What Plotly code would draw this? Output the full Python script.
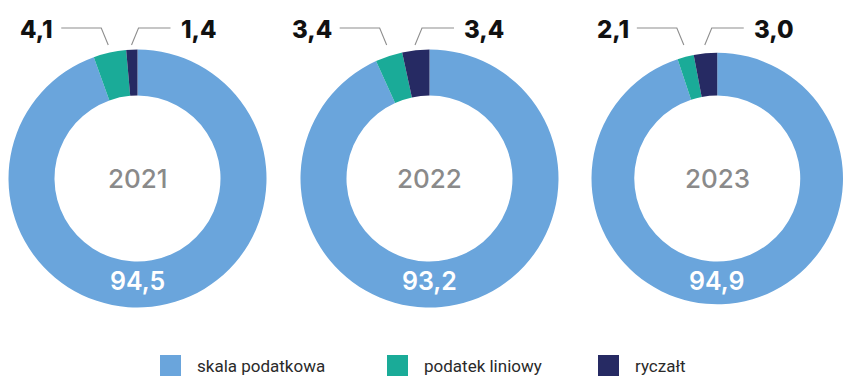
import math
import plotly.graph_objects as go

# Share of taxpayers by form of taxation (%)
years = ["2021", "2022", "2023"]
categories = ["skala podatkowa", "podatek liniowy", "ryczałt"]
skala = [94.5, 93.2, 94.9]
liniowy = [4.1, 3.4, 2.1]
ryczalt = [1.4, 3.4, 3.0]

colors = ["#6aa5dc", "#1aab98", "#262a63"]
W, H = 843, 378
FONT = "Inter, Roboto, Arial, sans-serif"
LEGEND_FONT = "Roboto, Arial, sans-serif"

centers_x = [137.5, 429.5, 720.5]
center_y = 178.5
R = 129
INNER = 83


def fmt(v):
    return f"{v:.1f}".replace(".", ",")


def px(x):
    return x / W


def py(y):
    return 1 - y / H


fig = go.Figure()
annotations = []
shapes = []
line_style = dict(color="#8e8e8e", width=1.1)

for i, year in enumerate(years):
    left = centers_x[i] - R
    right = min(centers_x[i] + R, W)
    r = (right - left) / 2
    cx = (left + right) / 2
    vals = [skala[i], liniowy[i], ryczalt[i]]
    fig.add_trace(go.Pie(
        labels=categories,
        values=vals,
        sort=False,
        direction="clockwise",
        rotation=0,
        hole=INNER / r,
        marker=dict(colors=colors, line=dict(width=0)),
        textinfo="none",
        hoverinfo="label+value",
        showlegend=False,
        domain=dict(x=[px(left), px(right)],
                    y=[py(center_y + r), py(center_y - r)]),
    ))

    # year in the hole, main share on the ring
    annotations.append(dict(x=px(cx), y=py(center_y), text=year, showarrow=False,
                            font=dict(family=FONT, size=26, color="#8a8a8a", weight=500),
                            xanchor="center", yanchor="middle"))
    annotations.append(dict(x=px(cx), y=py(281), text=fmt(skala[i]), showarrow=False,
                            font=dict(family=FONT, size=25, color="#ffffff", weight=600),
                            xanchor="center", yanchor="middle"))

    # leader lines for the two small slices (slices run clockwise and end at 12 o'clock)
    th_r = -math.radians(ryczalt[i] / 100 * 360 / 2)
    th_l = -math.radians((ryczalt[i] + liniowy[i] / 2) / 100 * 360)
    end_y, elbow_y = 45, 28

    ex = cx + (r + 7) * math.sin(th_l)
    k = ex - 7
    shapes.append(dict(type="path", xref="paper", yref="paper", line=line_style,
                       path=f"M {px(ex)},{py(end_y)} L {px(k)},{py(elbow_y)} L {px(k - 40)},{py(elbow_y)}"))
    annotations.append(dict(x=px(k - 46), y=py(29), text=fmt(liniowy[i]), showarrow=False,
                            font=dict(family=FONT, size=24, color="#111111", weight=800),
                            xanchor="right", yanchor="middle"))

    ex = cx + (r + 7) * math.sin(th_r)
    k = ex + 7
    shapes.append(dict(type="path", xref="paper", yref="paper", line=line_style,
                       path=f"M {px(ex)},{py(end_y)} L {px(k)},{py(elbow_y)} L {px(k + 32)},{py(elbow_y)}"))
    annotations.append(dict(x=px(k + 40), y=py(29), text=fmt(ryczalt[i]), showarrow=False,
                            font=dict(family=FONT, size=24, color="#111111", weight=800),
                            xanchor="left", yanchor="middle"))

# legend row
legend_x = [160, 387, 598]
for c, lx, name in zip(colors, legend_x, categories):
    shapes.append(dict(type="rect", xref="paper", yref="paper",
                       x0=px(lx), x1=px(lx + 21), y0=py(376), y1=py(355),
                       fillcolor=c, line=dict(width=0)))
    annotations.append(dict(x=px(lx + 35), y=py(366), text=name, showarrow=False,
                            font=dict(family=LEGEND_FONT, size=17, color="#2a2a2a"),
                            xanchor="left", yanchor="middle"))

fig.update_layout(
    width=W, height=H,
    margin=dict(l=0, r=0, t=0, b=0),
    paper_bgcolor="#ffffff",
    plot_bgcolor="#ffffff",
    showlegend=False,
    annotations=annotations,
    shapes=shapes,
)

fig.write_html("out.html")
